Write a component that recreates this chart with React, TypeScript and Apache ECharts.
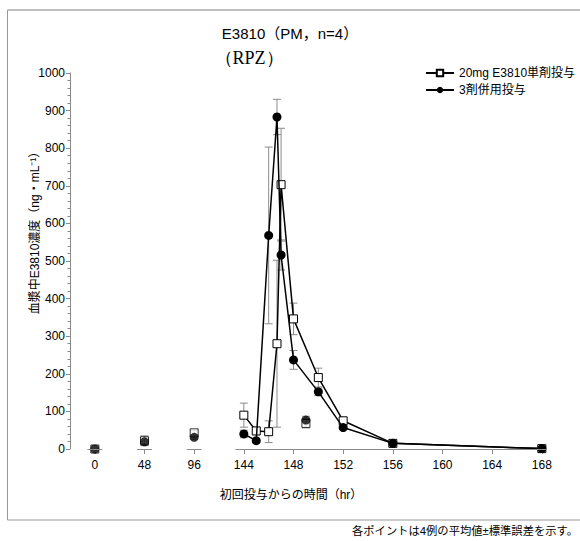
import React, { useEffect, useRef } from "react";
import * as echarts from "echarts";

// sampling times (hr) and mean ± SE values (ng/mL)
const hours = [0, 48, 96, 144, 145, 146, 146.67, 147, 148, 149, 150, 152, 156, 168];
const singleMean = [0, 22, 43, 90, 48, 46, 280, 703, 346, 68, 190, 75, 15, 1];
const singleSE = [0, 13, 6, 32, 10, 29, 222, 150, 42, 12, 25, 8, 2, 0];
const comboMean = [0, 19, 31, 40, 22, 568, 883, 516, 237, 77, 152, 57, 15, 1];
const comboSE = [0, 10, 5, 10, 6, 235, 47, 40, 25, 10, 10, 5, 2, 0];
// whether a point is joined by the line
const joined = [false, false, false, true, true, true, true, true, true, false, true, true, true, true];

const tickHours = [0, 48, 96, 144, 148, 152, 156, 160, 164, 168];
const seriesNames = ["20mg E3810単剤投与", "3剤併用投与"];

// broken time axis: 48 h per unit up to 144 h, then 4 h per unit
const toU = (h: number) => (h <= 144 ? h / 48 : 3 + (h - 144) / 4);

const FONT = "'Liberation Sans', Arial, 'Noto Sans CJK JP', sans-serif";
const AXIS_GRAY = "#8a8a8a";

function errorSeries(mean: number[], se: number[]) {
  return {
    type: "custom",
    silent: true,
    z: 1,
    data: hours.map((h, i) => [toU(h), mean[i], se[i]]),
    renderItem: (params: any, api: any) => {
      const x = api.value(0);
      const m = api.value(1);
      const s = api.value(2);
      if (!s) return null;
      const top = api.coord([x, m + s]);
      const bot = api.coord([x, m - s]);
      const style = { stroke: "#8c8c8c", lineWidth: 1 };
      const hw = 4;
      return {
        type: "group",
        children: [
          { type: "line", shape: { x1: top[0], y1: top[1], x2: bot[0], y2: bot[1] }, style },
          { type: "line", shape: { x1: top[0] - hw, y1: top[1], x2: top[0] + hw, y2: top[1] }, style },
          { type: "line", shape: { x1: bot[0] - hw, y1: bot[1], x2: bot[0] + hw, y2: bot[1] }, style },
        ],
      };
    },
  };
}

const squareStyle = {
  symbol: "rect",
  symbolSize: 8,
  itemStyle: { color: "#fff", borderColor: "#000", borderWidth: 1 },
};
const circleStyle = {
  symbol: "circle",
  symbolSize: 9,
  itemStyle: { color: "#000", borderColor: "#000", borderWidth: 0 },
};

export default function App() {
  const ref = useRef<HTMLDivElement>(null);
  useEffect(() => {
    document.body.style.margin = "0";
    if (!ref.current) return;
    const chart = echarts.init(ref.current, undefined, { renderer: "svg" });

    const joinedData = (mean: number[]) =>
      hours.map((h, i) => [toU(h), mean[i]]).filter((_, i) => joined[i]);
    const looseData = (mean: number[]) =>
      hours.map((h, i) => [toU(h), mean[i]]).filter((_, i) => !joined[i]);

    const axisSegments = [
      [-0.15, 0.15],
      [0.85, 1.15],
      [1.85, 2.15],
      [2.83, 9.1],
    ].map(([a, b]) => [{ coord: [a, 0] }, { coord: [b, 0] }]);

    chart.setOption({
      animation: false,
      backgroundColor: "#fff",
      textStyle: { fontFamily: FONT },
      grid: { left: 70, top: 73, width: 476.8, height: 376, containLabel: false },
      legend: {
        data: seriesNames,
        orient: "vertical",
        left: 420,
        top: 62,
        itemWidth: 28,
        itemHeight: 8,
        itemGap: 5,
        textStyle: { fontSize: 12, color: "#000", fontFamily: FONT },
        selectedMode: false,
      },
      xAxis: {
        type: "value",
        min: -0.5,
        max: 9.1,
        axisLine: { show: false, onZero: false },
        splitLine: { show: false },
        axisTick: {
          show: true,
          length: 5,
          customValues: tickHours.map(toU),
          lineStyle: { color: AXIS_GRAY },
        },
        axisLabel: {
          customValues: tickHours.map(toU),
          margin: 10,
          fontSize: 12,
          color: "#000",
          fontFamily: FONT,
          formatter: (v: number) => {
            const i = tickHours.findIndex((h) => Math.abs(toU(h) - v) < 1e-6);
            return i >= 0 ? String(tickHours[i]) : "";
          },
        },
      },
      yAxis: {
        type: "value",
        min: 0,
        max: 1000,
        interval: 100,
        axisLine: { show: true, onZero: false, lineStyle: { color: AXIS_GRAY } },
        axisTick: { show: true, length: 4, lineStyle: { color: AXIS_GRAY } },
        minorTick: { show: true, splitNumber: 5, length: 2.5, lineStyle: { color: AXIS_GRAY } },
        splitLine: { show: false },
        axisLabel: {
          margin: 5,
          fontSize: 12,
          color: "#000",
          fontFamily: FONT,
          formatter: (v: number) => String(v),
        },
      },
      graphic: [
        { type: "line", shape: { x1: 7.5, y1: 10, x2: 580, y2: 10 }, style: { stroke: "#aaa", lineWidth: 1.5 } },
        { type: "line", shape: { x1: 7.5, y1: 10, x2: 7.5, y2: 520 }, style: { stroke: "#999", lineWidth: 1 } },
        { type: "line", shape: { x1: 7.5, y1: 520, x2: 580, y2: 520 }, style: { stroke: "#999", lineWidth: 1 } },
        {
          type: "text",
          x: 290,
          y: 33,
          style: {
            text: "E3810（PM，n=4）",
            fontSize: 15,
            fontFamily: FONT,
            fill: "#000",
            align: "center",
            verticalAlign: "middle",
          },
        },
        {
          type: "text",
          x: 249,
          y: 58,
          style: {
            text: "（RPZ）",
            fontSize: 18,
            fontFamily: "'Liberation Serif', 'Times New Roman', serif",
            fill: "#000",
            align: "center",
            verticalAlign: "middle",
          },
        },
        {
          type: "text",
          x: 35,
          y: 230,
          rotation: Math.PI / 2,
          style: {
            text: "血漿中E3810濃度（ng・mL⁻¹）",
            fontSize: 12,
            fontFamily: FONT,
            fill: "#000",
            align: "center",
            verticalAlign: "middle",
          },
        },
        {
          type: "text",
          x: 291,
          y: 495,
          style: {
            text: "初回投与からの時間（hr）",
            fontSize: 12,
            fontFamily: FONT,
            fill: "#000",
            align: "center",
            verticalAlign: "middle",
          },
        },
        {
          type: "text",
          x: 578,
          y: 531,
          style: {
            text: "各ポイントは4例の平均値±標準誤差を示す。",
            fontSize: 11.3,
            fontFamily: FONT,
            fill: "#000",
            align: "right",
            verticalAlign: "middle",
          },
        },
      ],
      series: [
        errorSeries(singleMean, singleSE),
        errorSeries(comboMean, comboSE),
        {
          name: seriesNames[0],
          type: "line",
          z: 3,
          data: joinedData(singleMean),
          lineStyle: { color: "#000", width: 1.5 },
          ...squareStyle,
          markLine: {
            silent: true,
            symbol: "none",
            label: { show: false },
            lineStyle: { color: AXIS_GRAY, type: "solid", width: 1 },
            data: axisSegments,
          },
        },
        {
          name: seriesNames[1],
          type: "line",
          z: 4,
          data: joinedData(comboMean),
          lineStyle: { color: "#000", width: 1.5 },
          ...circleStyle,
        },
        { name: "single-loose", type: "scatter", z: 3, data: looseData(singleMean), ...squareStyle },
        { name: "combo-loose", type: "scatter", z: 4, data: looseData(comboMean), ...circleStyle },
      ],
    });
    return () => chart.dispose();
  }, []);
  return <div ref={ref} style={{ width: 580, height: 541 }} />;
}
